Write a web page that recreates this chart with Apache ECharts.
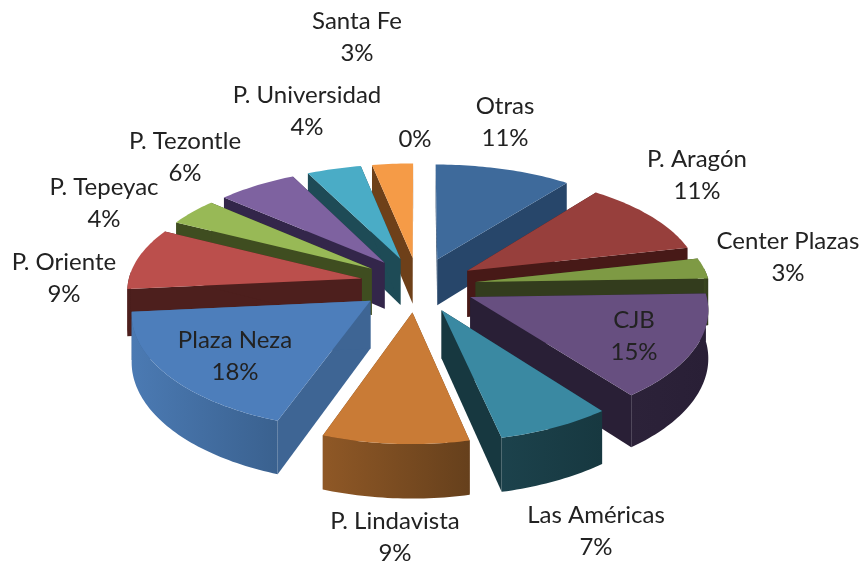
<!DOCTYPE html>
<html><head><meta charset="utf-8">
<style>html,body{margin:0;padding:0;background:#fff}#c{width:864px;height:564px}</style>
<script src="https://cdn.jsdelivr.net/npm/echarts@6/dist/echarts.min.js"></script>
</head><body><div id="c"></div>
<script>
const categories = ['Otras','P. Aragón','Center Plazas','CJB','Las Américas','P. Lindavista','Plaza Neza','P. Oriente','P. Tepeyac','P. Tezontle','P. Universidad','Santa Fe',''];
const values = [11,11,3,15,7,9,18,9,4,6,4,3,0];
const topColors = ['#3e6a9b','#973f3c','#7e9a44','#674f80','#3a89a2','#c97b36','#4d7ebb','#bb4f4c','#98b956','#7e62a0','#4aacc6','#f59b47','#888888'];
const wallLight = ['#2c4d73','#4d1f1d','#39461f','#2c2239','#1c424c','#8f5826','#4b7ab3','#4f201e','#3f4d20','#33264a','#1e4b56','#6e4019','#444444'];
const wallDark  = ['#27466a','#471917','#333c1d','#291f36','#173840','#66401c','#3a618f','#4a1d1b','#3f4d20','#33264a','#1e4b56','#6e4019','#444444'];
const cutColors = ['#27466a','#471917','#333c1d','#291f36','#173840','#6e4019','#3e6594','#4d1f1d','#3f4d20','#33264a','#1e4b56','#6e4019','#444444'];
const labelX = [505,697,788,634,596,395,235,64,104,185,307,357,415];
const labelY = [122,175,257,336,531,537,356,278,203,157,111,37,139];

// projection layout
const CX=418, CY=284.5, R=234, BLAST=58, K=0.472, Q=0.00047, QX=0.0004, H=47, SKEW=0.032;
function proj(wx,wy,h){const s=1/(1-Q*wy), sx=1/(1-QX*wy);return [CX+sx*wx, CY+s*(K*wy+h)];}
// the reference's 3D view turns edges slightly counter-clockwise, except near 12 o'clock
function view(a){
  const t=Math.min(a,2*Math.PI-a)/(40*Math.PI/180);
  return a-SKEW*Math.min(1,t);
}
const total = values.reduce((a,b)=>a+b,0);
const rad = p => p/total*2*Math.PI;
let acc=0;
const rows = values.map((v,i)=>{const r=[i,acc,acc+v];acc+=v;return r;})
  .filter(r=>r[2]>r[1])
  .sort((a,b)=>(-Math.cos(rad((a[1]+a[2])/2)))-(-Math.cos(rad((b[1]+b[2])/2))));

function renderSlice(params,api){
  const i=api.value(0), a0=rad(api.value(1)), a1=rad(api.value(2)), m=(a0+a1)/2;
  const ox=BLAST*Math.sin(m), oy=-BLAST*Math.cos(m);
  const pt=(r,a,h)=>{const v=view(a);return proj(ox+r*Math.sin(v), oy-r*Math.cos(v), h);};
  const arc=(s,e,h)=>{const n=Math.max(2,Math.ceil(Math.abs(e-s)/0.02)),o=[];
    for(let j=0;j<=n;j++)o.push(pt(R,s+(e-s)*j/n,h));return o;};
  const kids=[];
  const poly=(points,fill)=>kids.push({type:'polygon',shape:{points},style:{fill,stroke:null},silent:true});
  poly([pt(0,0,0),pt(R,a0,0),pt(R,a0,H),pt(0,0,H)],cutColors[i]);
  poly([pt(0,0,0),pt(R,a1,0),pt(R,a1,H),pt(0,0,H)],cutColors[i]);
  const lo=Math.max(a0,Math.PI*0.47), hi=Math.min(a1,Math.PI*1.53);
  if(hi>lo){
    const t=arc(lo,hi,0), b=arc(lo,hi,H).reverse();
    poly(t.concat(b),new echarts.graphic.LinearGradient(0,0,1,0,[
      {offset:0,color:wallLight[i]},{offset:1,color:wallDark[i]}]));
  }
  poly([pt(0,0,0)].concat(arc(a0,a1,0)),topColors[i]);
  return {type:'group',children:kids};
}

const chart=echarts.init(document.getElementById('c'),null,{renderer:'canvas'});
chart.setOption({
  animation:false,
  backgroundColor:'#fff',
  series:[{type:'custom',coordinateSystem:'none',silent:true,renderItem:renderSlice,data:rows,z:1}],
  graphic:categories.map((c,i)=>({
    type:'text',z:10,silent:true,
    style:{text:(c?c+'\n':'')+values[i]+'%',x:labelX[i],y:labelY[i],align:'center',verticalAlign:'middle',
      font:'24px Lato',lineHeight:32,fill:'#222222'}
  }))
});
</script></body></html>
